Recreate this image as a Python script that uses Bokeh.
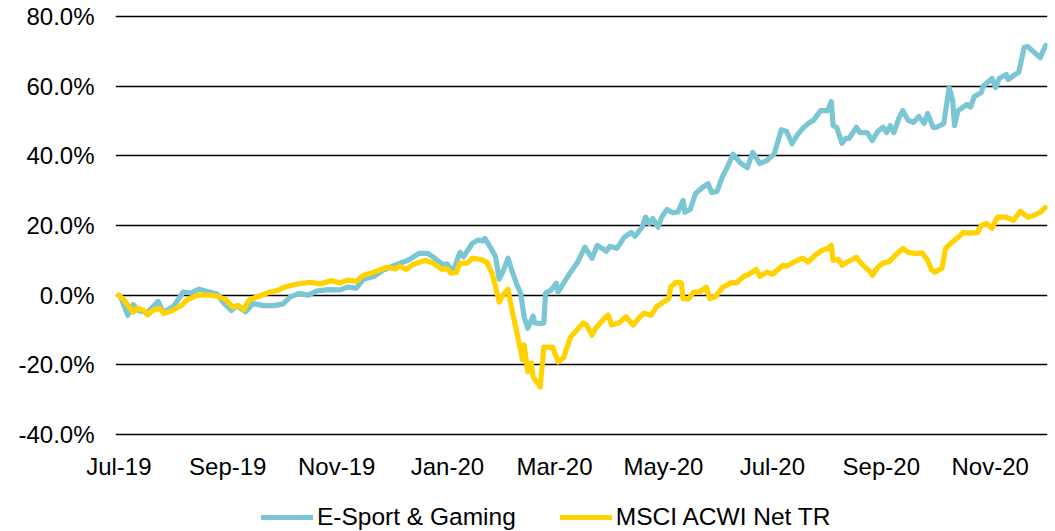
from datetime import datetime
import pandas as pd
from bokeh.plotting import figure
from bokeh.layouts import column
from bokeh.models import (ColumnDataSource, Range1d, FixedTicker, PrintfTickFormatter,
                          DatetimeTickFormatter, Legend, LegendItem)
from bokeh.embed import file_html
from bokeh.resources import INLINE

# ---------------- data (cumulative performance, %) ----------------
esport_dates = [
    "2019-07-31", "2019-08-01", "2019-08-05", "2019-08-08", "2019-08-11", "2019-08-16", "2019-08-22",
    "2019-08-25", "2019-08-31", "2019-09-05", "2019-09-09", "2019-09-14", "2019-09-19", "2019-09-24",
    "2019-09-28", "2019-10-02", "2019-10-05", "2019-10-10", "2019-10-14", "2019-10-20", "2019-10-26",
    "2019-10-31", "2019-11-04", "2019-11-09", "2019-11-14", "2019-11-19", "2019-11-25", "2019-12-02",
    "2019-12-06", "2019-12-11", "2019-12-15", "2019-12-21", "2019-12-26", "2020-01-03", "2020-01-09",
    "2020-01-15", "2020-01-20", "2020-01-24", "2020-01-28", "2020-01-31", "2020-02-03", "2020-02-07",
    "2020-02-09", "2020-02-14", "2020-02-17", "2020-02-20", "2020-02-21", "2020-02-24", "2020-02-27",
    "2020-02-29", "2020-03-02", "2020-03-05", "2020-03-07", "2020-03-10", "2020-03-12", "2020-03-14",
    "2020-03-16", "2020-03-19", "2020-03-20", "2020-03-23", "2020-03-25", "2020-03-26", "2020-03-29",
    "2020-04-01", "2020-04-02", "2020-04-05", "2020-04-09", "2020-04-13", "2020-04-17", "2020-04-21",
    "2020-04-24", "2020-04-29", "2020-05-01", "2020-05-05", "2020-05-09", "2020-05-13", "2020-05-15",
    "2020-05-19", "2020-05-21", "2020-05-23", "2020-05-25", "2020-05-28", "2020-05-30", "2020-06-02",
    "2020-06-05", "2020-06-08", "2020-06-11", "2020-06-12", "2020-06-15", "2020-06-18", "2020-06-22",
    "2020-06-25", "2020-06-27", "2020-06-30", "2020-07-03", "2020-07-06", "2020-07-09", "2020-07-13",
    "2020-07-17", "2020-07-20", "2020-07-24", "2020-07-28", "2020-08-01", "2020-08-05", "2020-08-08",
    "2020-08-11", "2020-08-14", "2020-08-17", "2020-08-20", "2020-08-23", "2020-08-27", "2020-08-31",
    "2020-09-02", "2020-09-03", "2020-09-05", "2020-09-08", "2020-09-10", "2020-09-12", "2020-09-16",
    "2020-09-18", "2020-09-22", "2020-09-25", "2020-09-28", "2020-10-01", "2020-10-03", "2020-10-05",
    "2020-10-07", "2020-10-10", "2020-10-12", "2020-10-15", "2020-10-18", "2020-10-21", "2020-10-24",
    "2020-10-26", "2020-10-29", "2020-10-31", "2020-11-04", "2020-11-07", "2020-11-09", "2020-11-10",
    "2020-11-12", "2020-11-17", "2020-11-19", "2020-11-21", "2020-11-25", "2020-11-26", "2020-12-01",
    "2020-12-03", "2020-12-05", "2020-12-09", "2020-12-10", "2020-12-14", "2020-12-16", "2020-12-19",
    "2020-12-21", "2020-12-28", "2020-12-31",
]
esport_values = [
    0.0, -0.5, -5.8, -2.7, -4.5, -5.0, -1.8,
    -5.0, -3.0, 0.9, 0.6, 1.7, 1.0, 0.3,
    -2.4, -4.4, -3.0, -4.8, -2.4, -3.0, -3.0,
    -2.5, -0.5, 0.5, 0.0, 1.2, 1.6, 1.5,
    2.3, 2.0, 4.6, 5.4, 7.2, 8.9, 10.0,
    12.0, 12.0, 10.6, 8.9, 8.9, 6.6, 12.3,
    11.0, 14.9, 15.8, 15.6, 16.3, 13.8, 11.0,
    4.6, 6.6, 10.6, 7.2, 2.9, 0.6, -6.3,
    -9.5, -6.0, -8.0, -8.2, -8.0, 0.6, 1.4,
    3.4, 0.9, 3.4, 6.6, 9.5, 13.8, 10.6,
    14.3, 12.6, 14.0, 13.5, 16.6, 18.0, 16.9,
    19.5, 22.4, 20.6, 22.0, 19.5, 22.4, 24.6,
    23.7, 23.8, 27.2, 23.8, 24.6, 29.2, 31.0,
    32.0, 29.5, 29.8, 34.0, 37.0, 40.5, 38.0,
    36.6, 41.0, 37.8, 38.7, 40.5, 47.5, 47.0,
    43.5, 46.0, 47.9, 49.3, 50.2, 53.0, 53.0,
    55.6, 48.7, 48.2, 43.6, 45.0, 45.0, 48.2,
    46.7, 46.7, 44.4, 47.0, 48.2, 46.7, 48.7,
    46.7, 51.0, 53.0, 50.2, 49.6, 51.3, 49.3,
    52.2, 48.2, 48.2, 49.3, 59.6, 55.9, 48.7,
    53.0, 54.8, 54.0, 57.0, 58.2, 60.0, 62.2,
    59.6, 62.2, 63.4, 61.9, 63.4, 64.0, 71.1,
    71.4, 68.2, 71.7,
]

msci_dates = [
    "2019-07-31", "2019-08-03", "2019-08-08", "2019-08-10", "2019-08-14", "2019-08-16", "2019-08-19",
    "2019-08-23", "2019-08-25", "2019-08-30", "2019-09-04", "2019-09-07", "2019-09-13", "2019-09-19",
    "2019-09-24", "2019-09-29", "2019-10-03", "2019-10-06", "2019-10-09", "2019-10-12", "2019-10-17",
    "2019-10-22", "2019-10-28", "2019-11-02", "2019-11-08", "2019-11-15", "2019-11-21", "2019-11-27",
    "2019-12-02", "2019-12-06", "2019-12-11", "2019-12-15", "2019-12-21", "2019-12-28", "2020-01-02",
    "2020-01-04", "2020-01-08", "2020-01-12", "2020-01-19", "2020-01-23", "2020-01-28", "2020-01-31",
    "2020-02-02", "2020-02-05", "2020-02-07", "2020-02-11", "2020-02-14", "2020-02-19", "2020-02-22",
    "2020-02-25", "2020-02-27", "2020-02-29", "2020-03-02", "2020-03-05", "2020-03-06", "2020-03-09",
    "2020-03-12", "2020-03-13", "2020-03-14", "2020-03-16", "2020-03-18", "2020-03-19", "2020-03-23",
    "2020-03-25", "2020-03-28", "2020-03-30", "2020-04-02", "2020-04-05", "2020-04-09", "2020-04-12",
    "2020-04-16", "2020-04-18", "2020-04-21", "2020-04-23", "2020-04-27", "2020-04-30", "2020-05-02",
    "2020-05-06", "2020-05-10", "2020-05-14", "2020-05-17", "2020-05-20", "2020-05-24", "2020-05-27",
    "2020-05-31", "2020-06-03", "2020-06-04", "2020-06-07", "2020-06-10", "2020-06-11", "2020-06-14",
    "2020-06-17", "2020-06-20", "2020-06-24", "2020-06-26", "2020-06-29", "2020-07-03", "2020-07-08",
    "2020-07-11", "2020-07-15", "2020-07-17", "2020-07-22", "2020-07-24", "2020-07-28", "2020-07-31",
    "2020-08-06", "2020-08-08", "2020-08-12", "2020-08-17", "2020-08-20", "2020-08-24", "2020-08-28",
    "2020-08-31", "2020-09-02", "2020-09-03", "2020-09-06", "2020-09-08", "2020-09-11", "2020-09-16",
    "2020-09-19", "2020-09-24", "2020-09-25", "2020-09-28", "2020-10-01", "2020-10-04", "2020-10-08",
    "2020-10-12", "2020-10-15", "2020-10-19", "2020-10-23", "2020-10-26", "2020-10-28", "2020-10-30",
    "2020-11-03", "2020-11-05", "2020-11-08", "2020-11-12", "2020-11-15", "2020-11-19", "2020-11-23",
    "2020-11-25", "2020-11-28", "2020-12-01", "2020-12-04", "2020-12-09", "2020-12-13", "2020-12-17",
    "2020-12-21", "2020-12-24", "2020-12-28", "2020-12-31",
]
msci_values = [
    0.0, -1.5, -4.9, -3.7, -4.4, -5.7, -4.4,
    -3.8, -5.3, -4.4, -3.0, -1.4, 0.0, 0.0,
    -0.3, -1.3, -3.5, -3.0, -4.2, -1.4, -0.4,
    0.6, 1.4, 2.5, 3.2, 3.7, 3.2, 4.2,
    3.5, 4.3, 4.0, 5.7, 6.6, 8.0, 7.5,
    8.3, 7.4, 8.9, 10.0, 9.2, 7.4, 7.5,
    6.3, 6.5, 9.2, 9.2, 10.6, 10.2, 9.5,
    6.3, 2.3, -2.0, 0.0, 1.7, -1.4, -8.6,
    -15.8, -18.6, -14.3, -22.0, -19.5, -23.5, -26.4,
    -14.9, -15.0, -14.9, -19.2, -18.0, -12.0, -10.3,
    -8.0, -8.6, -11.5, -9.5, -7.2, -5.7, -8.6,
    -8.0, -6.2, -8.6, -6.7, -5.2, -5.8, -3.4,
    -2.0, -1.0, 2.3, 3.7, 3.5, -1.0, -1.1,
    0.9, 0.9, 2.3, -1.0, -0.5, 2.2, 3.6,
    3.5, 5.4, 5.7, 7.4, 5.4, 6.6, 6.0,
    8.6, 8.3, 9.5, 10.6, 9.5, 11.5, 12.9,
    13.4, 14.3, 10.0, 10.3, 8.6, 9.5, 10.9,
    8.9, 6.6, 5.7, 8.0, 9.2, 9.5, 11.5,
    13.4, 12.3, 12.0, 12.1, 10.0, 7.4, 6.6,
    7.7, 13.4, 14.9, 16.6, 18.0, 17.8, 18.0,
    20.0, 20.6, 19.2, 22.4, 22.4, 21.5, 24.1,
    22.4, 22.8, 23.8, 25.2,
]

series_names = ["E-Sport & Gaming", "MSCI ACWI Net TR"]
series_colors = ["#7BC6D5", "#FFD200"]

tick_dates = ["2019-07-31", "2019-09-30", "2019-11-30", "2020-01-31", "2020-03-31",
              "2020-05-31", "2020-07-31", "2020-09-30", "2020-11-30"]
tick_labels = ["Jul-19", "Sep-19", "Nov-19", "Jan-20", "Mar-20",
               "May-20", "Jul-20", "Sep-20", "Nov-20"]
y_ticks = [-40, -20, 0, 20, 40, 60, 80]
y_min, y_max = -40.6, 80.6

# ---------------- main chart ----------------
FONT = "Liberation Sans"
LINE_W = 5.2

p = figure(width=1055, height=491, x_axis_type="datetime",
           x_range=Range1d(datetime(2019, 7, 29, 3), datetime(2021, 1, 1, 2)),
           y_range=Range1d(y_min, y_max),
           output_backend="svg", toolbar_location=None,
           min_border_left=115, min_border_right=8, min_border_top=14, min_border_bottom=55)
p.outline_line_color = None
p.background_fill_color = "white"
p.border_fill_color = "white"

src_e = ColumnDataSource(dict(x=pd.to_datetime(esport_dates), y=esport_values))
src_m = ColumnDataSource(dict(x=pd.to_datetime(msci_dates), y=msci_values))

p.line("x", "y", source=src_e, line_color=series_colors[0], line_width=LINE_W,
       line_join="round", line_cap="round")
p.line("x", "y", source=src_m, line_color=series_colors[1], line_width=LINE_W,
       line_join="round", line_cap="round")

# y axis
p.yaxis.ticker = FixedTicker(ticks=y_ticks)
p.yaxis.formatter = PrintfTickFormatter(format="%.1f%%")
p.yaxis.axis_line_color = None
p.yaxis.major_tick_line_color = None
p.yaxis.minor_tick_line_color = None
p.yaxis.major_tick_out = 0
p.yaxis.major_tick_in = 0
p.yaxis.minor_tick_out = 0
p.yaxis.major_label_standoff = 21
p.yaxis.major_label_text_font = FONT
p.yaxis.major_label_text_font_size = "24px"
p.yaxis.major_label_text_color = "black"

# x axis
tick_ms = [int(pd.Timestamp(d).value // 10**6) for d in tick_dates]
p.xaxis.ticker = FixedTicker(ticks=tick_ms)
fmt = "%b-%y"
p.xaxis.formatter = DatetimeTickFormatter(milliseconds=fmt, seconds=fmt, minsec=fmt, minutes=fmt,
                                          hourmin=fmt, hours=fmt, days=fmt, months=fmt, years=fmt)
p.xaxis.major_label_overrides = {t: lab for t, lab in zip(tick_ms, tick_labels)}
p.xaxis.axis_line_color = None
p.xaxis.major_tick_line_color = None
p.xaxis.minor_tick_line_color = None
p.xaxis.major_tick_out = 0
p.xaxis.major_tick_in = 0
p.xaxis.minor_tick_out = 0
p.xaxis.major_label_standoff = 16
p.xaxis.major_label_text_font = FONT
p.xaxis.major_label_text_font_size = "24px"
p.xaxis.major_label_text_color = "black"

# grid
p.xgrid.visible = False
p.ygrid.ticker = FixedTicker(ticks=y_ticks)
p.ygrid.grid_line_color = "black"
p.ygrid.grid_line_width = 1.3

# ---------------- legend strip (frame aligned with the chart frame) ----------------
pl = figure(width=1055, height=40, x_range=Range1d(0, 1), y_range=Range1d(0, 1),
            output_backend="svg", toolbar_location=None,
            x_axis_location=None, y_axis_location=None,
            min_border_left=0, min_border_right=0, min_border_top=0, min_border_bottom=0)
pl.outline_line_color = None
pl.xgrid.visible = False
pl.ygrid.visible = False
pl.background_fill_color = "white"
pl.border_fill_color = "white"

# same series sources; they fall outside this strip's 0..1 ranges, so only the legend keys show
lr1 = pl.line("x", "y", source=src_e, line_color=series_colors[0], line_width=LINE_W, line_cap="round")
lr2 = pl.line("x", "y", source=src_m, line_color=series_colors[1], line_width=LINE_W, line_cap="round")

legend = Legend(items=[LegendItem(label=series_names[0], renderers=[lr1]),
                       LegendItem(label=series_names[1], renderers=[lr2])],
                orientation="horizontal", location=(146, 0),
                glyph_width=52, glyph_height=28, label_height=28, label_standoff=4, spacing=44,
                padding=0, margin=0, border_line_alpha=0, background_fill_alpha=0,
                label_text_font=FONT, label_text_font_size="24.5px", label_text_color="black")
pl.add_layout(legend)

layout = column(p, pl, spacing=0)

open("out.html", "w").write(file_html(layout, INLINE))
